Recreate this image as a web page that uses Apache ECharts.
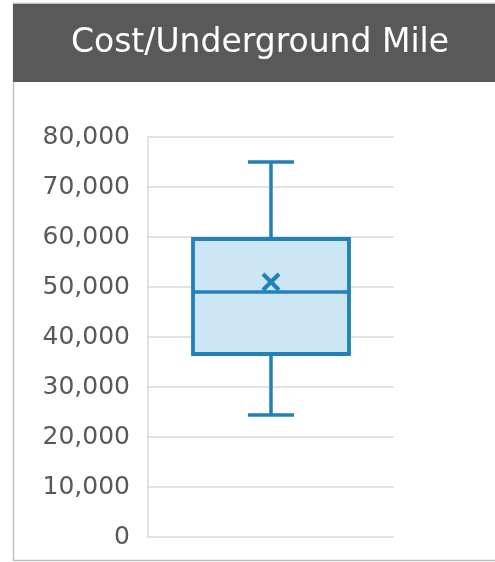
<!DOCTYPE html>
<html>
<head>
<meta charset="utf-8">
<script src="https://cdn.jsdelivr.net/npm/echarts@6/dist/echarts.min.js"></script>
<style>
  html, body { margin: 0; padding: 0; background: #fff; }
  #chart { width: 495px; height: 562px; }
</style>
</head>
<body>
<div id="chart"></div>
<script>
// data
const titleText = 'Cost/Underground Mile';
const categories = ['Underground'];
const whiskerMin = [24400];
const quartile1 = [36600];
const medians = [49000];
const quartile3 = [59600];
const whiskerMax = [75000];
const means = [51000];
const yTicks = [0, 10000, 20000, 30000, 40000, 50000, 60000, 70000, 80000];

const boxColor = '#2181b9';
const boxFill = '#cce6f5';

let myChart = echarts.init(document.getElementById('chart'));

const seriesData = categories.map((c, i) => [i, whiskerMin[i], quartile1[i], medians[i], quartile3[i], whiskerMax[i], means[i]]);

function renderBox(params, api) {
  const idx = api.value(0);
  const pMin = api.coord([idx, api.value(1)]);
  const pQ1 = api.coord([idx, api.value(2)]);
  const pMed = api.coord([idx, api.value(3)]);
  const pQ3 = api.coord([idx, api.value(4)]);
  const pMax = api.coord([idx, api.value(5)]);
  const pMean = api.coord([idx, api.value(6)]);
  const cx = pMed[0];
  const half = 78, cap = 23, xs = 8;
  const st = { stroke: boxColor, lineWidth: 3.5, fill: null };
  const xst = { stroke: boxColor, lineWidth: 4, fill: null };
  return {
    type: 'group',
    children: [
      { type: 'line', shape: { x1: cx, y1: pMax[1], x2: cx, y2: pQ3[1] }, style: st },
      { type: 'line', shape: { x1: cx - cap, y1: pMax[1], x2: cx + cap, y2: pMax[1] }, style: st },
      { type: 'line', shape: { x1: cx, y1: pQ1[1], x2: cx, y2: pMin[1] }, style: st },
      { type: 'line', shape: { x1: cx - cap, y1: pMin[1], x2: cx + cap, y2: pMin[1] }, style: st },
      { type: 'rect', shape: { x: cx - half, y: pQ3[1], width: half * 2, height: pQ1[1] - pQ3[1] },
        style: { fill: boxFill, stroke: boxColor, lineWidth: 3.8 } },
      { type: 'line', shape: { x1: cx - half, y1: pMed[1], x2: cx + half, y2: pMed[1] }, style: st },
      { type: 'line', shape: { x1: pMean[0] - xs, y1: pMean[1] - xs, x2: pMean[0] + xs, y2: pMean[1] + xs }, style: xst },
      { type: 'line', shape: { x1: pMean[0] - xs, y1: pMean[1] + xs, x2: pMean[0] + xs, y2: pMean[1] - xs }, style: xst }
    ]
  };
}

myChart.setOption({
  animation: false,
  graphic: [
    // outer frame
    { type: 'rect', shape: { x: 13.5, y: 3.5, width: 500, height: 557 },
      style: { fill: null, stroke: '#bfbfbf', lineWidth: 1.5 }, z: 0 },
    // title band
    { type: 'rect', shape: { x: 13, y: 4, width: 490, height: 78 },
      style: { fill: '#595959' }, z: 1 },
    { type: 'text', x: 260, y: 43, z: 2,
      style: { text: titleText, fill: '#ffffff', font: '33px "DejaVu Sans"', align: 'center', verticalAlign: 'middle' } }
  ],
  grid: { left: 148, right: 101, top: 137, bottom: 25 },
  xAxis: {
    type: 'category',
    data: categories,
    axisLine: { show: false },
    axisTick: { show: false },
    axisLabel: { show: false },
    splitLine: { show: false }
  },
  yAxis: {
    type: 'value',
    min: yTicks[0],
    max: yTicks[yTicks.length - 1],
    interval: yTicks[1] - yTicks[0],
    axisLine: { show: true, lineStyle: { color: '#d9d9d9', width: 1.5 } },
    axisTick: { show: false },
    axisLabel: {
      margin: 18,
      color: '#595959',
      fontFamily: 'DejaVu Sans',
      fontSize: 25,
      formatter: v => v.toLocaleString('en-US')
    },
    splitLine: { lineStyle: { color: '#d9d9d9', width: 1.5 } }
  },
  series: [{
    type: 'custom',
    renderItem: renderBox,
    encode: { x: 0, y: [1, 2, 3, 4, 5, 6] },
    data: seriesData,
    z: 5
  }]
});
</script>
</body>
</html>
